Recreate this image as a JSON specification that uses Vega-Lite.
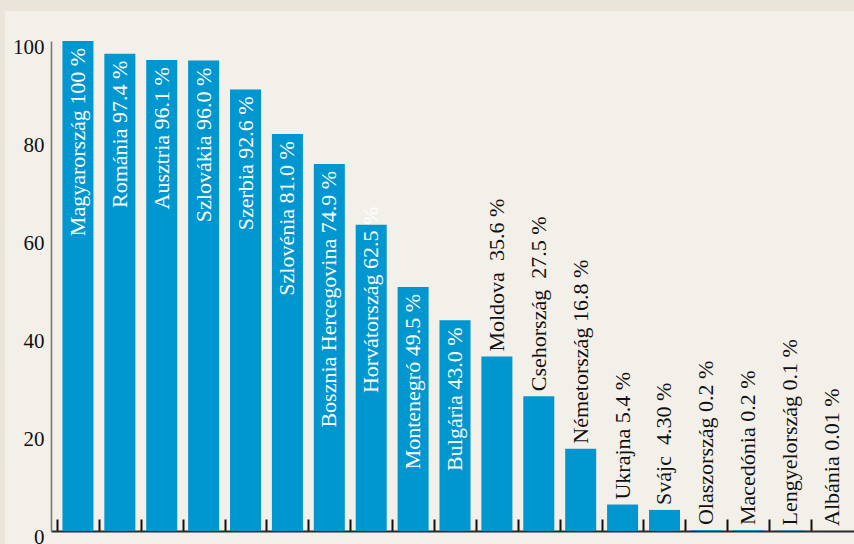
{
  "$schema": "https://vega.github.io/schema/vega-lite/v6.json",
  "width": 849,
  "height": 533,
  "autosize": {"type": "none"},
  "padding": {"left": 5, "top": 11, "right": 0, "bottom": 0},
  "background": "#ebe4da",
  "view": {"fill": "#f3efe9", "stroke": null},
  "config": {"font": "Liberation Serif"},
  "data": {
    "values": [
      {"country": "Magyarország", "value": 100, "label": "Magyarország 100 %"},
      {"country": "Románia", "value": 97.4, "label": "Románia 97.4 %"},
      {"country": "Ausztria", "value": 96.1, "label": "Ausztria 96.1 %"},
      {"country": "Szlovákia", "value": 96.0, "label": "Szlovákia 96.0 %"},
      {"country": "Szerbia", "value": 90.1, "label": "Szerbia 92.6 %"},
      {"country": "Szlovénia", "value": 81.0, "label": "Szlovénia 81.0 %"},
      {"country": "Bosznia Hercegovina", "value": 74.9, "label": "Bosznia Hercegovina 74.9 %"},
      {"country": "Horvátország", "value": 62.5, "label": "Horvátország 62.5 %"},
      {"country": "Montenegró", "value": 49.8, "label": "Montenegró 49.5 %"},
      {"country": "Bulgária", "value": 43.0, "label": "Bulgária 43.0 %"},
      {"country": "Moldova", "value": 35.6, "label": "Moldova\u00a0 35.6 %"},
      {"country": "Csehország", "value": 27.5, "label": "Csehország\u00a0 27.5 %"},
      {"country": "Németország", "value": 16.8, "label": "Németország 16.8 %"},
      {"country": "Ukrajna", "value": 5.4, "label": "Ukrajna 5.4 %"},
      {"country": "Svájc", "value": 4.30, "label": "Svájc\u00a0 4.30 %"},
      {"country": "Olaszország", "value": 0.2, "label": "Olaszország 0.2 %"},
      {"country": "Macedónia", "value": 0.2, "label": "Macedónia 0.2 %"},
      {"country": "Lengyelország", "value": 0.1, "label": "Lengyelország 0.1 %"},
      {"country": "Albánia", "value": 0.01, "label": "Albánia 0.01 %"}
    ]
  },
  "encoding": {
    "x": {
      "field": "country",
      "type": "nominal",
      "sort": null,
      "scale": {"range": [46, 854], "paddingInner": 0.26, "paddingOuter": 0.273},
      "axis": {
        "title": null,
        "labels": false,
        "offset": -13,
        "domainColor": "#2a2a2a",
        "domainWidth": 2,
        "ticks": true,
        "tickColor": "#111111",
        "tickWidth": 2,
        "tickSize": -12,
        "bandPosition": 0,
        "tickOffset": -5.5,
        "grid": false
      }
    },
    "y": {
      "field": "value",
      "type": "quantitative",
      "scale": {"domain": [0, 100], "range": [520, 30], "nice": false, "zero": true},
      "axis": {
        "title": null,
        "values": [0, 20, 40, 60, 80, 100],
        "offset": -46,
        "grid": false,
        "ticks": false,
        "domainColor": "#7a7a7a",
        "domainWidth": 1.6,
        "labelFont": "Liberation Serif",
        "labelFontSize": 21,
        "labelColor": "#111111",
        "labelPadding": 7,
        "labelOffset": 6
      }
    }
  },
  "layer": [
    {
      "mark": {"type": "bar", "color": "#0096d0"}
    },
    {
      "transform": [{"filter": "datum.value >= 40 && datum.country != 'Horvátország'"}],
      "mark": {
        "type": "text",
        "angle": -90,
        "align": "right",
        "baseline": "middle",
        "dx": -7,
        "font": "Liberation Serif",
        "fontSize": 22,
        "color": "#ffffff"
      },
      "encoding": {"text": {"field": "label"}}
    },
    {
      "transform": [{"filter": "datum.country == 'Horvátország'"}],
      "mark": {
        "type": "text",
        "angle": -90,
        "align": "right",
        "baseline": "middle",
        "dx": 18,
        "font": "Liberation Serif",
        "fontSize": 22,
        "color": "#ffffff"
      },
      "encoding": {"text": {"field": "label"}}
    },
    {
      "transform": [{"filter": "datum.value < 40"}],
      "mark": {
        "type": "text",
        "angle": -90,
        "align": "left",
        "baseline": "middle",
        "dx": 5,
        "font": "Liberation Serif",
        "fontSize": 22,
        "color": "#111111"
      },
      "encoding": {"text": {"field": "label"}}
    }
  ]
}
